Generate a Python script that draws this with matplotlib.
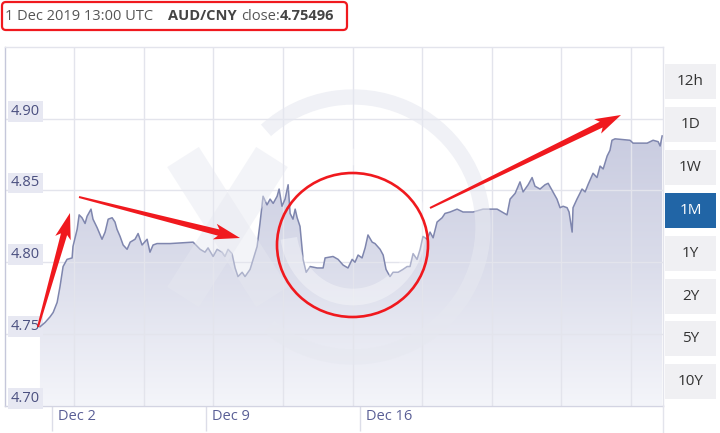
import numpy as np
import matplotlib.pyplot as plt
from matplotlib.colors import LinearSegmentedColormap
from matplotlib.patches import Polygon, Ellipse, FancyBboxPatch, Arc
from matplotlib.transforms import Affine2D, blended_transform_factory
from matplotlib.lines import Line2D

plt.rcParams['font.family'] = ['Open Sans', 'DejaVu Sans']

# AUD/CNY, 1M view - x in days since 1 Dec 2019 00:00 UTC
days = [0.45, 0.68, 0.91, 1.05, 1.23, 1.36, 1.50, 1.68, 1.91, 1.95,
        2.14, 2.23, 2.36, 2.50, 2.59, 2.77, 2.86, 3.05, 3.27, 3.41,
        3.55, 3.73, 3.86, 3.95, 4.09, 4.23, 4.41, 4.55, 4.77, 4.91,
        5.09, 5.32, 5.45, 5.59, 5.77, 6.36, 7.41, 7.73, 7.95, 8.09,
        8.32, 8.50, 8.73, 8.86, 9.00, 9.18, 9.32, 9.45, 9.64, 9.77,
        10.00, 10.14, 10.32, 10.45, 10.59, 10.77, 10.91, 11.05, 11.23, 11.32,
        11.45, 11.59, 11.73, 11.82, 11.95, 12.05, 12.14, 12.27, 12.41, 12.55,
        12.73, 13.05, 13.32, 13.41, 13.77, 14.00, 14.23, 14.45, 14.64, 14.77,
        14.91, 15.09, 15.23, 15.36, 15.55, 15.68, 15.91, 16.05, 16.18, 16.36,
        16.50, 16.73, 16.95, 17.14, 17.27, 17.41, 17.59, 17.73, 17.86, 18.05,
        18.18, 18.32, 18.50, 18.73, 18.86, 19.09, 19.41, 19.68, 20.14, 20.59,
        21.23, 21.68, 21.82, 22.05, 22.27, 22.41, 22.64, 22.82, 22.95, 23.18,
        23.41, 23.55, 23.77, 23.95, 24.09, 24.23, 24.41, 24.50, 24.64, 24.68,
        24.86, 25.09, 25.23, 25.36, 25.59, 25.77, 25.91, 26.05, 26.23, 26.36,
        26.45, 26.59, 27.27, 27.41, 28.05, 28.32, 28.55, 28.64, 28.73]
rate = [4.755, 4.758, 4.762, 4.765, 4.772, 4.783, 4.797, 4.802, 4.803, 4.811,
        4.823, 4.833, 4.831, 4.827, 4.832, 4.837, 4.830, 4.824, 4.816, 4.821,
        4.830, 4.831, 4.828, 4.823, 4.818, 4.812, 4.809, 4.814, 4.816, 4.820,
        4.812, 4.816, 4.807, 4.812, 4.813, 4.813, 4.814, 4.809, 4.807, 4.810,
        4.804, 4.809, 4.807, 4.804, 4.809, 4.806, 4.796, 4.790, 4.793, 4.790,
        4.795, 4.802, 4.811, 4.827, 4.846, 4.840, 4.844, 4.841, 4.846, 4.851,
        4.839, 4.844, 4.854, 4.834, 4.830, 4.837, 4.831, 4.825, 4.802, 4.793,
        4.797, 4.796, 4.796, 4.803, 4.804, 4.802, 4.798, 4.796, 4.802, 4.800,
        4.805, 4.803, 4.810, 4.819, 4.814, 4.813, 4.809, 4.805, 4.795, 4.790,
        4.793, 4.793, 4.795, 4.797, 4.797, 4.806, 4.802, 4.809, 4.818, 4.816,
        4.821, 4.817, 4.828, 4.831, 4.834, 4.835, 4.837, 4.835, 4.835, 4.837,
        4.837, 4.833, 4.844, 4.848, 4.856, 4.849, 4.854, 4.859, 4.853, 4.851,
        4.854, 4.855, 4.849, 4.844, 4.838, 4.839, 4.838, 4.835, 4.821, 4.838,
        4.844, 4.851, 4.849, 4.854, 4.862, 4.859, 4.867, 4.865, 4.874, 4.878,
        4.885, 4.886, 4.885, 4.883, 4.883, 4.885, 4.884, 4.881, 4.888]

tick_days = [1, 8, 15]
tick_labels = ['Dec 2', 'Dec 9', 'Dec 16']
y_ticks = [4.70, 4.75, 4.80, 4.85, 4.90]
ranges = ['12h', '1D', '1W', '1M', '1Y', '2Y', '5Y', '10Y']
active = '1M'

W, H = 720, 433
fig = plt.figure(figsize=(W / 100, H / 100), dpi=100)
# pixel coords measured from the top-left corner
px = Affine2D().scale(1 / W, -1 / H).translate(0, 1) + fig.transFigure

ax = fig.add_axes([5 / W, (H - 405.7) / H, 658 / W, (405.7 - 47) / H])
x0, x1 = -1.14, 28.77
ax.set_xlim(x0, x1)
ax.set_ylim(4.70, 4.95)

# gradient area under the line
cmap = LinearSegmentedColormap.from_list(
    'area', [(0, '#f4f5fa'), (0.4, '#dadcea'), (0.8, '#c7cadf'), (1, '#c0c4da')])
grad = np.linspace(0, 1, 256).reshape(-1, 1)
im = ax.imshow(grad, extent=[x0, x1, 4.70, 4.95], origin='lower', cmap=cmap,
               aspect='auto', zorder=1)
area = Polygon(np.column_stack([[days[0]] + days + [days[-1]],
                                [4.70] + rate + [4.70]]),
               closed=True, fc='none', ec='none', transform=ax.transData)
ax.add_patch(area)
im.set_clip_path(area)

# grid
grid_c = '#e3e4ec'
for v in y_ticks[1:]:
    ax.axhline(v, color=grid_c, lw=1, zorder=2)
for d in np.arange(2.0, x1, 3.164):
    ax.axvline(d, color=grid_c, lw=1, zorder=2)
fig.add_artist(Line2D([663, 663], [405, 433], transform=px, color=grid_c, lw=1))

# xe watermark
wm = '#e6e8f0'
fig.add_artist(Arc((353, 227), 260, 260, theta1=-132, theta2=130, transform=px,
                   color=wm, lw=11, alpha=0.6, zorder=0.5))
fig.add_artist(Line2D([183, 272], [157, 297], transform=px, color=wm, lw=27,
                      alpha=0.45, solid_capstyle='butt', zorder=0.5))
fig.add_artist(Line2D([272, 183], [157, 297], transform=px, color=wm, lw=27,
                      alpha=0.45, solid_capstyle='butt', zorder=0.5))
fig.add_artist(Arc((353, 227), 130, 140, theta1=-150, theta2=170, transform=px,
                   color='white', lw=12, alpha=0.35, zorder=0.5))

ax.plot(days, rate, color='#7f86ae', lw=1.1, zorder=4)

for side, c in [('left', '#c5c7da'), ('bottom', '#d3d4e2'),
                ('top', grid_c), ('right', grid_c)]:
    ax.spines[side].set_color(c)
    ax.spines[side].set_linewidth(1)

ax.set_yticks([])
ax.set_xticks(tick_days)
ax.tick_params(axis='x', length=18, width=1, color='#dcdde8', labelbottom=False)

xt = blended_transform_factory(ax.transData, ax.transAxes)
for d, lbl in zip(tick_days, tick_labels):
    ax.annotate(lbl, xy=(d, 0), xycoords=xt, xytext=(4, -7.5),
                textcoords='offset points', ha='left', va='center',
                fontsize=10.5, color='#5a5f96', annotation_clip=False)

yt = blended_transform_factory(ax.transAxes, ax.transData)
for v in y_ticks:
    ax.annotate(f'{v:.2f}', xy=(0, v), xycoords=yt, xytext=(4, 0),
                textcoords='offset points', ha='left', va='bottom',
                fontsize=10.5, color='#4b5080', zorder=3,
                bbox=dict(boxstyle='square,pad=0.2', fc='#e7e8f2', ec='none'))

# header, pieces chained one after another
renderer = fig.canvas.get_renderer()
parts = [('1 Dec 2019 13:00 UTC', 'normal', '#555555', 0),
         ('AUD/CNY', 'bold', '#444444', 15),
         ('close:', 'normal', '#555555', 4),
         ('4.75496', 'bold', '#444444', 0)]
cur = 5
for s, wt, c, gap in parts:
    cur += gap
    t = fig.text(cur, 16, s, transform=px, fontsize=10.5, color=c,
                 weight=wt, va='center')
    cur += t.get_window_extent(renderer).width

# range buttons
for i, r in enumerate(ranges):
    top = 64 + i * 42.9
    on = r == active
    fig.add_artist(FancyBboxPatch((665, top), 51, 35, boxstyle='square,pad=0',
                                  transform=px, fc='#2165a6' if on else '#f0f0f3',
                                  ec='none', zorder=3))
    fig.text(690.5, top + 17.5, r, transform=px, fontsize=11,
             color='white' if on else '#333333', ha='center', va='center',
             zorder=4)

# red markup
red = '#f0191e'


def taper_arrow(tail, tip, w_tail=1.0, w_neck=3.2, w_head=8.0, head_len=22):
    t = np.array(tail, float)
    h = np.array(tip, float)
    u = (h - t) / np.hypot(*(h - t))
    n = np.array([-u[1], u[0]])
    neck = h - u * head_len
    barb = h - u * (head_len + 4)
    pts = [t + n * w_tail, neck + n * w_neck, barb + n * w_head, h,
           barb - n * w_head, neck - n * w_neck, t - n * w_tail]
    return Polygon(pts, closed=True, transform=px, fc=red, ec='none', zorder=6)


fig.add_artist(taper_arrow((38, 327), (70, 213)))
fig.add_artist(taper_arrow((79, 197), (240, 238)))
fig.add_artist(taper_arrow((430, 208), (621, 115)))
fig.add_artist(Ellipse((352.5, 245), 151, 144, transform=px, fill=False,
                       ec=red, lw=1.9, zorder=6))
fig.add_artist(FancyBboxPatch((2, 2), 345, 28,
                              boxstyle='round,pad=0,rounding_size=4',
                              transform=px, fill=False, ec=red, lw=1.6,
                              zorder=6))

plt.savefig('out.png', dpi=100)
